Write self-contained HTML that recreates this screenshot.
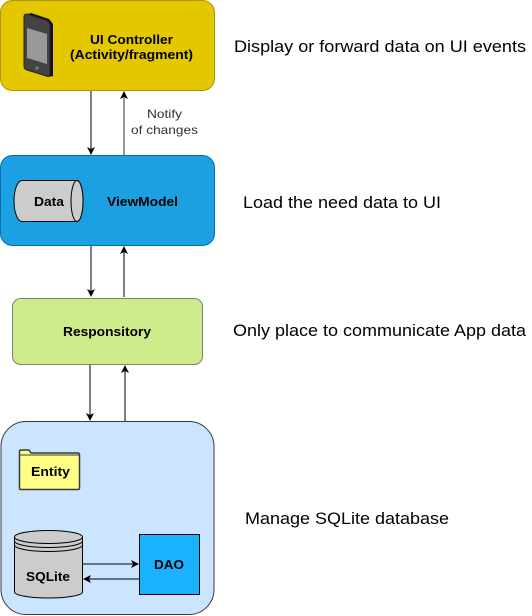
<!DOCTYPE html>
<html><head><style>body{margin:0;background:#fff}svg{display:block}</style></head><body>
<svg width="532" height="616" xmlns="http://www.w3.org/2000/svg" font-family="Liberation Sans, sans-serif">
<defs>
<marker id="a" markerWidth="8" markerHeight="8" refX="7" refY="4" orient="auto" markerUnits="userSpaceOnUse"><path d="M0,0 L8,4 L0,8 L2,4z" fill="#000"/></marker>
</defs>
<rect x="0.5" y="0.5" width="214" height="90" rx="12" fill="#e3c800" stroke="#b09500"/>
<g>
<path d="M26,15 L31,13 L49,19 L53,24 L53,76 L48,77 L26,70 Z" fill="#111"/>
<path d="M24,17 Q24,14 27,14 L46,20 Q50,22 50,26 L50,74 Q50,77 47,76 L27,70 Q24,69 24,66 Z" fill="#444" stroke="#222"/>
<path d="M27,28 L47,34 L47,64 L27,58 Z" fill="#999"/>
<circle cx="37" cy="68" r="1.8" fill="#777"/>
</g>
<text x="90" y="44" font-size="13" font-weight="bold" textLength="83" lengthAdjust="spacingAndGlyphs">UI Controller</text>
<text x="70" y="59" font-size="13" font-weight="bold" textLength="123" lengthAdjust="spacingAndGlyphs">(Activity/fragment)</text>
<line x1="91" y1="91" x2="91" y2="154" stroke="#000" marker-end="url(#a)"/>
<line x1="124" y1="155" x2="124" y2="92" stroke="#777" stroke-width="1.5" marker-end="url(#a)"/>
<text x="147" y="118" font-size="12" fill="#333" textLength="35" lengthAdjust="spacingAndGlyphs">Notify</text>
<text x="131" y="134" font-size="12" fill="#333" textLength="67" lengthAdjust="spacingAndGlyphs">of changes</text>
<rect x="0.5" y="155.5" width="214" height="90" rx="12" fill="#1ba1e2" stroke="#006eaf"/>
<path d="M22,180.5 L77,180.5 A6,20.5 0 0 1 77,221.5 L22,221.5 A8,20.5 0 0 1 22,180.5Z" fill="#ccc" stroke="#000"/>
<ellipse cx="77" cy="201" rx="6" ry="20.5" fill="#ccc" stroke="#000"/>
<text x="34" y="206" font-size="13" font-weight="bold" textLength="30" lengthAdjust="spacingAndGlyphs">Data</text>
<text x="107" y="206" font-size="13" font-weight="bold" textLength="71" lengthAdjust="spacingAndGlyphs">ViewModel</text>
<line x1="91" y1="246" x2="91" y2="296" stroke="#000" marker-end="url(#a)"/>
<line x1="124" y1="297" x2="124" y2="247" stroke="#000" marker-end="url(#a)"/>
<rect x="12.5" y="298.5" width="190" height="66" rx="8" fill="#cdeb8b" stroke="#36393d" stroke-opacity="0.6"/>
<text x="63" y="336" font-size="13" font-weight="bold" textLength="88" lengthAdjust="spacingAndGlyphs">Responsitory</text>
<line x1="90" y1="365" x2="90" y2="420" stroke="#000" marker-end="url(#a)"/>
<line x1="125" y1="421" x2="125" y2="366" stroke="#000" marker-end="url(#a)"/>
<rect x="1" y="421.5" width="213" height="193" rx="25" fill="#cce5ff" stroke="#36393d"/>
<path d="M19.5,452 L19.5,451 Q19.5,450 21,450 L29,450 L31,453 L78,453 Q79.5,453 79.5,455 L79.5,488 Q79.5,489.5 78,489.5 L21,489.5 Q19.5,489.5 19.5,488 Z" fill="#ffff88" stroke="#36393d" stroke-width="1.5"/>
<line x1="19.5" y1="455" x2="79.5" y2="455" stroke="#36393d"/>
<text x="31" y="476" font-size="13" font-weight="bold" textLength="39" lengthAdjust="spacingAndGlyphs">Entity</text>
<path d="M14.5,537 L14.5,592 A34,6 0 0 0 82.5,592 L82.5,537" fill="#ccc" stroke="#000"/>
<ellipse cx="48.5" cy="537" rx="34" ry="6.5" fill="#ccc" stroke="#000"/>
<path d="M14.5,541 A34,6.5 0 0 0 82.5,541 M14.5,545 A34,6.5 0 0 0 82.5,545" fill="none" stroke="#000"/>
<text x="26" y="581" font-size="13" font-weight="bold" textLength="44" lengthAdjust="spacingAndGlyphs">SQLite</text>
<rect x="139.5" y="534.5" width="60" height="60" fill="#1ab2ff" stroke="#000"/>
<text x="154" y="569" font-size="13" font-weight="bold" textLength="30" lengthAdjust="spacingAndGlyphs">DAO</text>
<line x1="83" y1="564" x2="138" y2="564" stroke="#000" marker-end="url(#a)"/>
<line x1="139" y1="579" x2="84" y2="579" stroke="#000" marker-end="url(#a)"/>
<g font-size="17" fill="#000">
<text x="234" y="52" textLength="292" lengthAdjust="spacingAndGlyphs">Display or forward data on UI events</text>
<text x="243" y="208" textLength="198" lengthAdjust="spacingAndGlyphs">Load the need data to UI</text>
<text x="233" y="336" textLength="293" lengthAdjust="spacingAndGlyphs">Only place to communicate App data</text>
<text x="245" y="524" textLength="204" lengthAdjust="spacingAndGlyphs">Manage SQLite database</text>
</g>
</svg>
</body></html>
